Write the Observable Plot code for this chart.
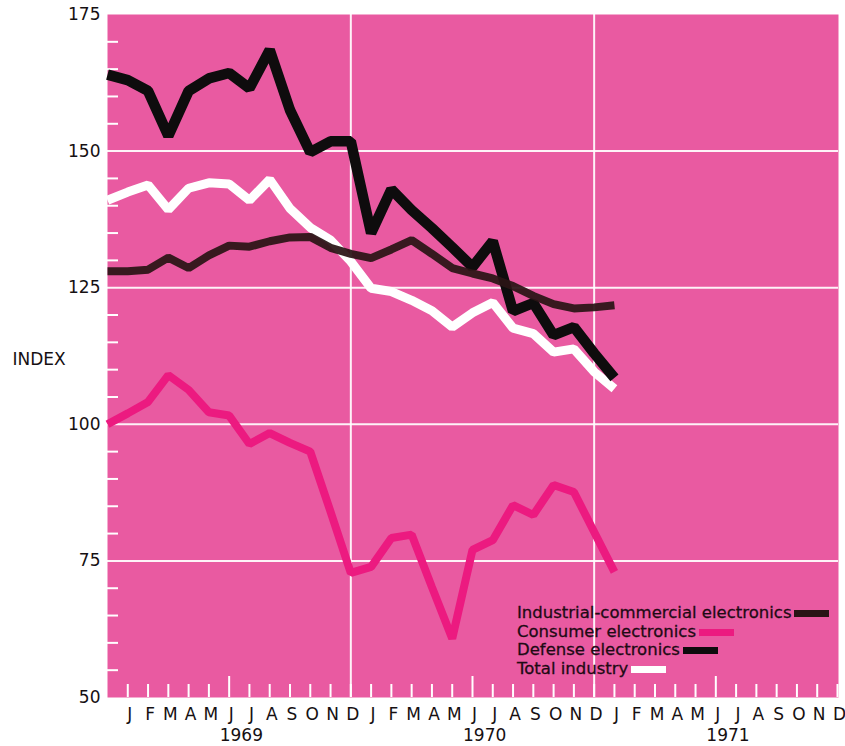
<!DOCTYPE html>
<html>
<head>
<meta charset="utf-8">
<script src="https://cdn.jsdelivr.net/npm/d3@7"></script>
<script src="https://cdn.jsdelivr.net/npm/@observablehq/plot@0.6"></script>
<style>
  html, body { margin: 0; padding: 0; background: #ffffff; }
  #wrap { position: relative; width: 845px; height: 746px; }
  #wrap svg text { -webkit-text-stroke: 0.35px #161012; }
  #legend { position: absolute; left: 517px; top: 604px; font-family: "DejaVu Sans", sans-serif;
            font-size: 16.5px; line-height: 18.6px; color: #1e0a14; white-space: nowrap;
            -webkit-text-stroke: 0.3px #1e0a14; }
  #legend .sw { display: inline-block; width: 35px; height: 7px; margin-left: 3px; vertical-align: middle; }
</style>
</head>
<body>
<div id="wrap"></div>
<script>
// ---------- data ----------
// monthly points from Dec 1968 (index 0) to Jan 1971 (index 25)
const firstPoint = { year: 1968, month: 12 };
const monthLetters = ["J","F","M","A","M","J","J","A","S","O","N","D"];
const years = [1969, 1970, 1971];
const yLabels = [50, 75, 100, 125, 150, 175];

const seriesNames = ["Industrial-commercial electronics", "Consumer electronics", "Defense electronics", "Total industry"];
const seriesColors = ["#2a1416", "#ec1a80", "#0e0c0d", "#ffffff"];

const industrial = [128, 128, 128.3, 130.5, 128.6, 130.9, 132.7, 132.5, 133.5, 134.2, 134.3, 132.3, 131.2,
                    130.4, 132, 133.7, 131.2, 128.6, 127.6, 126.7, 125.3, 123.5, 122, 121.2, 121.4, 121.8];
const consumer   = [100, 102, 104.1, 109, 106.3, 102.2, 101.6, 96.4, 98.4, 96.6, 95, 84, 72.8,
                    73.9, 79.2, 79.8, 70.2, 60.8, 77, 78.8, 85.2, 83.4, 88.9, 87.6, 80.3, 73];
const defense    = [164, 163, 161, 152.8, 161, 163.3, 164.3, 161.5, 168.5, 157.5, 149.8, 151.8, 151.8,
                    135, 143, 139.2, 135.9, 132.4, 128.8, 133.5, 120.7, 122.2, 116.3, 117.8, 113, 108.5];
const total      = [141, 142.5, 143.8, 139.3, 143.2, 144.2, 144, 141, 144.8, 139.5, 136, 133.7, 129.8,
                    124.9, 124.3, 122.7, 120.8, 117.8, 120.4, 122.3, 117.6, 116.6, 113.2, 113.8, 109.6, 106.5];

const seriesValues = [industrial, consumer, defense, total];

// ---------- derived ----------
// month index t: months after Dec 1968
const monthIndex = (y, m) => (y - firstPoint.year) * 12 + (m - firstPoint.month);
const rows = [];
seriesNames.forEach((name, s) => seriesValues[s].forEach((v, i) => rows.push({ series: name, t: i, value: v })));

const monthTicks = [];
years.forEach(y => monthLetters.forEach((l, m) => monthTicks.push({ t: monthIndex(y, m + 1), letter: l, m })));
const letterOf = new Map(monthTicks.map(d => [d.t, d.letter]));
const regularTicks = monthTicks.filter(d => d.m !== 5).map(d => d.t);
const juneTicks = monthTicks.filter(d => d.m === 5).map(d => d.t);
const yearCenters = years.map(y => monthIndex(y, 6) + 0.6);
const yearOf = new Map(years.map((y, i) => [yearCenters[i], String(y)]));
const yearBoundaries = [monthIndex(1969, 12), monthIndex(1970, 12)];
const minorY = d3.range(50, 176, 5).filter(v => v % 25 !== 0);
const gridY = yLabels.filter(v => v > 50 && v < 175);

const bg = "#e95aa1";
const ink = "#161012";
const byName = n => rows.filter(r => r.series === n);

const chart = Plot.plot({
  width: 845,
  height: 746,
  marginLeft: 107,
  marginRight: 7,
  marginTop: 14,
  marginBottom: 49,
  style: { fontFamily: "DejaVu Sans, sans-serif", fontSize: "17px", color: ink, background: "#ffffff" },
  x: { domain: [0, 36.05], label: null },
  y: { domain: [50, 175], label: null },
  marks: [
    Plot.frame({ fill: bg, stroke: "none" }),
    Plot.ruleY(gridY, { stroke: "#ffffff", strokeWidth: 2, strokeOpacity: 0.92 }),
    Plot.ruleX(yearBoundaries, { stroke: "#ffffff", strokeWidth: 2, strokeOpacity: 0.92 }),
    Plot.axisY(minorY, { anchor: "left", tickSize: -11, stroke: "#ffffff", strokeWidth: 2, tickFormat: () => "", label: null }),
    Plot.axisY(yLabels, { anchor: "left", tickSize: 0, tickPadding: 7, fontSize: 17, fill: ink, label: null }),
    Plot.axisX(regularTicks, { anchor: "bottom", tickSize: -13, stroke: "#ffffff", strokeWidth: 2, tickFormat: () => "", label: null }),
    Plot.axisX(juneTicks, { anchor: "bottom", tickSize: -21, stroke: "#ffffff", strokeWidth: 2, tickFormat: () => "", label: null }),
    Plot.axisX(monthTicks.map(d => d.t), { anchor: "bottom", tickSize: 0, tickPadding: 10, fontSize: 17, fill: ink, dx: 2, tickFormat: t => letterOf.get(t), label: null }),
    Plot.axisX(yearCenters, { anchor: "bottom", tickSize: 0, tickPadding: 31, fontSize: 17, fill: ink, tickFormat: t => yearOf.get(t), label: null }),
    Plot.text(["INDEX"], { frameAnchor: "left", dx: -95, dy: 4, textAnchor: "start", fontSize: 17, fill: ink }),
    Plot.line(byName(seriesNames[3]), { x: "t", y: "value", stroke: seriesColors[3], strokeWidth: 9, strokeLinejoin: "miter", strokeLinecap: "butt" }),
    Plot.line(byName(seriesNames[2]), { x: "t", y: "value", stroke: seriesColors[2], strokeWidth: 10.5, strokeLinejoin: "miter", strokeLinecap: "butt" }),
    Plot.line(byName(seriesNames[0]), { x: "t", y: "value", stroke: seriesColors[0], strokeWidth: 8, strokeOpacity: 0.93, strokeLinejoin: "miter", strokeLinecap: "butt" }),
    Plot.line(byName(seriesNames[1]), { x: "t", y: "value", stroke: seriesColors[1], strokeWidth: 8, strokeLinejoin: "miter", strokeLinecap: "butt" })
  ]
});

const wrap = document.getElementById("wrap");
wrap.appendChild(chart);

const legend = document.createElement("div");
legend.id = "legend";
seriesNames.forEach((n, i) => {
  const line = document.createElement("div");
  const label = document.createElement("span");
  label.textContent = n;
  const sw = document.createElement("span");
  sw.className = "sw";
  sw.style.background = seriesColors[i];
  line.appendChild(label);
  line.appendChild(sw);
  legend.appendChild(line);
});
wrap.appendChild(legend);
</script>
</body>
</html>
